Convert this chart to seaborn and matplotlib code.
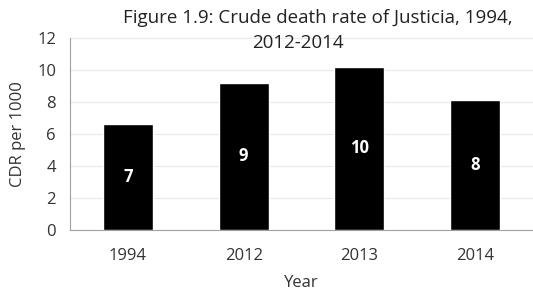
import pandas as pd
import seaborn as sns
import matplotlib.pyplot as plt

# data
years = ["1994", "2012", "2013", "2014"]
cdr = [6.6, 9.2, 10.2, 8.1]
bar_labels = ["7", "9", "10", "8"]
title_lines = ["Figure 1.9: Crude death rate of Justicia, 1994,", "2012-2014"]

sns.set_style("white")
plt.rcParams["font.family"] = ["Open Sans", "DejaVu Sans"]

df = pd.DataFrame({"Year": years, "CDR": cdr})

fig = plt.figure(figsize=(5.33, 2.91), dpi=100)
ax = fig.add_axes([70 / 533, 1 - 230 / 291, 463 / 533, 192 / 291])

sns.barplot(data=df, x="Year", y="CDR", color="black", width=0.43,
            saturation=1, ax=ax, zorder=3)

for p, lab in zip(ax.patches, bar_labels):
    ax.text(p.get_x() + p.get_width() / 2, p.get_height() / 2, lab,
            ha="center", va="center", color="white", fontsize=12,
            fontweight="bold", zorder=4)

ax.set_ylim(0, 12)
ax.set_yticks(range(0, 13, 2))
ax.set_xlim(-0.5, 3.5)
ax.grid(axis="y", color="#ebebe3", linewidth=0.8, zorder=0)

# excel-style ticks between categories
ax.set_xticks([0, 1, 2, 3])
ax.set_xticks([0.5, 1.5, 2.5], minor=True)
ax.tick_params(axis="x", which="major", length=0, pad=13, labelsize=12,
               labelcolor="#333333")
ax.tick_params(axis="x", which="minor", length=5, color="#999999",
               direction="out")
ax.tick_params(axis="y", length=5, color="#999999", direction="out",
               labelsize=12, labelcolor="#333333", pad=5)

for side in ["top", "right"]:
    ax.spines[side].set_visible(False)
for side in ["left", "bottom"]:
    ax.spines[side].set_color("#a0a0a0")

ax.set_xlabel("Year", fontsize=12, color="#333333", labelpad=8)
ax.set_ylabel("CDR per 1000", fontsize=12, color="#333333", labelpad=8)

# title in two lines, each centred as in the reference
fig.text(318 / 533, 1 - 18 / 291, title_lines[0], ha="center", va="center",
         fontsize=13.5, color="#222222")
fig.text(298 / 533, 1 - 43 / 291, title_lines[1], ha="center", va="center",
         fontsize=13.5, color="#222222")

fig.savefig("out.png", dpi=100)
